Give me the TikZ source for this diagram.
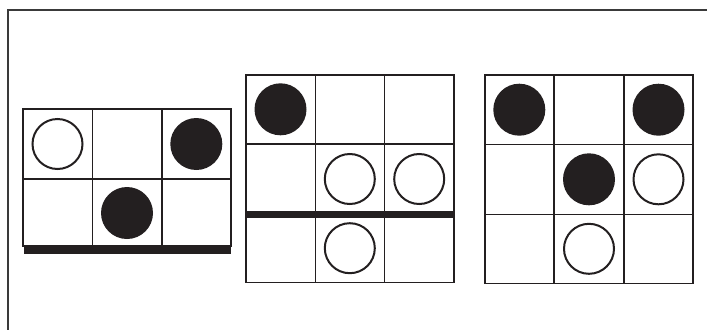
\documentclass[tikz,border=0pt]{standalone}
\definecolor{ink}{HTML}{231F20}
\definecolor{frame}{HTML}{3A3A3A}
\tikzset{
  gridline/.style={draw=ink, line width=1.6pt},
  bar/.style={draw=ink, line width=7pt},
  blackstone/.style={circle, fill=ink, draw=none, minimum size=52pt, inner sep=0pt},
  whitestone/.style={circle, fill=white, draw=ink, line width=2pt, minimum size=50pt, inner sep=0pt},
}
\begin{document}
\begin{tikzpicture}[x=1pt,y=1pt]
\useasboundingbox (0,0) rectangle (707,-330);
% outer frame (cropped)
\draw[frame, line width=1.6pt] (707,-10) -- (8,-10) -- (8,-330);

% grid 1
\draw[gridline] (22.7,-109) rectangle (231,-246);
\draw[gridline] (92.3,-109) -- (92.3,-246) (161.7,-109) -- (161.7,-246) (22.7,-179) -- (231,-179);
\coordinate (b1s) at (24,-250);
\coordinate (b1e) at (231,-250);
\draw[bar] (b1s) -- (b1e);
\node[whitestone] (g1a) at (57.5,-144) {};
\node[blackstone] (g1b) at (196.3,-144) {};
\node[blackstone] (g1c) at (127,-213) {};

% grid 2
\draw[gridline] (245.7,-74.7) rectangle (454,-282.3);
\draw[gridline] (315.3,-74.7) -- (315.3,-282.3) (384.3,-74.7) -- (384.3,-282.3)
  (245.7,-144) -- (454,-144);
\coordinate (b2s) at (245.7,-214);
\coordinate (b2e) at (454,-214);
\draw[bar] (b2s) -- (b2e);
\node[blackstone] (g2a) at (280.5,-109.3) {};
\node[whitestone] (g2b) at (349.8,-179) {};
\node[whitestone] (g2c) at (419.2,-179) {};
\node[whitestone] (g2d) at (349.8,-248.2) {};

% grid 3
\draw[gridline] (484.7,-75) rectangle (693,-283.3);
\draw[gridline] (554,-75) -- (554,-283.3) (624,-75) -- (624,-283.3)
  (484.7,-144.3) -- (693,-144.3) (484.7,-214.3) -- (693,-214.3);
\node[blackstone] (g3a) at (519.3,-109.7) {};
\node[blackstone] (g3b) at (658.5,-109.7) {};
\node[blackstone] (g3c) at (589,-179.3) {};
\node[whitestone] (g3d) at (658.5,-179.3) {};
\node[whitestone] (g3e) at (589,-248.8) {};
\end{tikzpicture}
\end{document}
